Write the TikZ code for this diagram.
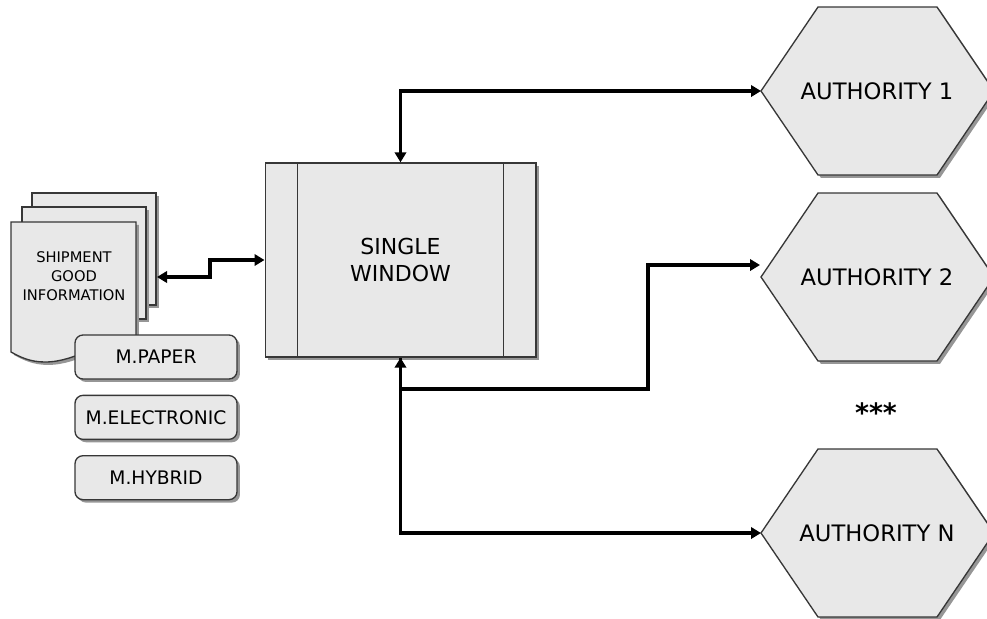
\documentclass[tikz,border=0pt]{standalone}
\usepackage{fontspec}
\setmainfont{DejaVu Sans}
\usetikzlibrary{arrows.meta,shadows,positioning}

\definecolor{boxfill}{RGB}{232,232,232}
\definecolor{boxline}{RGB}{55,55,55}
\definecolor{shadowgray}{RGB}{150,150,150}

\tikzset{every picture/.style={line width=0.75pt}}
\tikzset{
	>={Triangle[length=7.5pt,width=8.5pt]},
	shade box/.style={draw=boxline, fill=boxfill, line width=1pt,
		drop shadow={shadow xshift=2.2pt, shadow yshift=-2.2pt, fill=shadowgray, opacity=1}},
	link/.style={line width=2.6pt, black},
	modebox/.style={shade box, rounded corners=6pt, minimum width=121.5pt, minimum height=33pt,
		inner sep=0pt, font=\fontsize{14}{16}\selectfont},
	hexlabel/.style={font=\fontsize{17}{20}\selectfont},
}

\begin{document}
\begin{tikzpicture}[x=0.75pt,y=0.75pt,yscale=-1,xscale=1]
		\clip (0,0) rectangle (987,618);
		
		%Shape: Document stack
		\node[shade box, minimum width=93pt, minimum height=84pt, inner sep=0pt] (sheet3) at (94,249) {};
		\node[shade box, minimum width=93pt, minimum height=84pt, inner sep=0pt] (sheet2) at (84,263) {};
		\draw[shade box] (11,222) -- (136,222) -- (136,338) .. controls (102,338) and (78,362) .. (45,362) .. controls (30,362) and (20,357) .. (11,352) -- cycle;
		% Text Node
		\node[align=center, font=\fontsize{11}{14}\selectfont] (doc) at (74,276) {SHIPMENT\\GOOD\\INFORMATION};
		
		%Rounded Rect: modes
		\node[modebox] (paper) at (156,357) {M.PAPER};
		\node[modebox, below=11.25pt of paper] (electronic) {M.ELECTRONIC};
		\node[modebox, below=11.25pt of electronic] (hybrid) {M.HYBRID};
		
		%Shape: Single window
		\node[shade box, minimum width=203pt, minimum height=145.5pt] (sw) at (400.5,260) {};
		\draw[draw=boxline, line width=1pt] (sw.north west) ++(33,0) -- ++(0,194);
		\draw[draw=boxline, line width=1pt] (sw.north east) ++(-33,0) -- ++(0,194);
		% Text Node
		\node[align=center, font=\fontsize{16.5}{20}\selectfont] (swtext) at (sw.center) {SINGLE\\WINDOW};
		
		%Shape: Hexagons
		\foreach \n/\y/\t in {a1/91/AUTHORITY 1, a2/277/AUTHORITY 2, aN/533/AUTHORITY N}{
			\draw[shade box] (761,\y) coordinate (\n-w) -- ++(57,-84) -- ++(119,0) -- ++(57,84) -- ++(-57,84) -- ++(-119,0) -- cycle;
			\node[hexlabel] (\n) at (877,\y) {\t};
		}
		% Text Node
		\node[font=\fontsize{20}{20}\bfseries\selectfont, anchor=base] (more) at (876,422) {***};
		
		%Straight Lines
		\coordinate (doc-in) at (157,277);
		\draw[link,<->] (doc-in) -- (210,277) |- (sw.west);
		
		%Straight Lines
		\draw[link,<->] (sw.north) |- (a1-w);
		
		%Straight Lines
		\coordinate (a2-in) at (760,265);
		\draw[link,<->] (sw.south) |- (648,389) |- (a2-in);
		
		%Straight Lines
		\draw[link,->] (sw.south) |- (aN-w);
		
\end{tikzpicture}
\end{document}
